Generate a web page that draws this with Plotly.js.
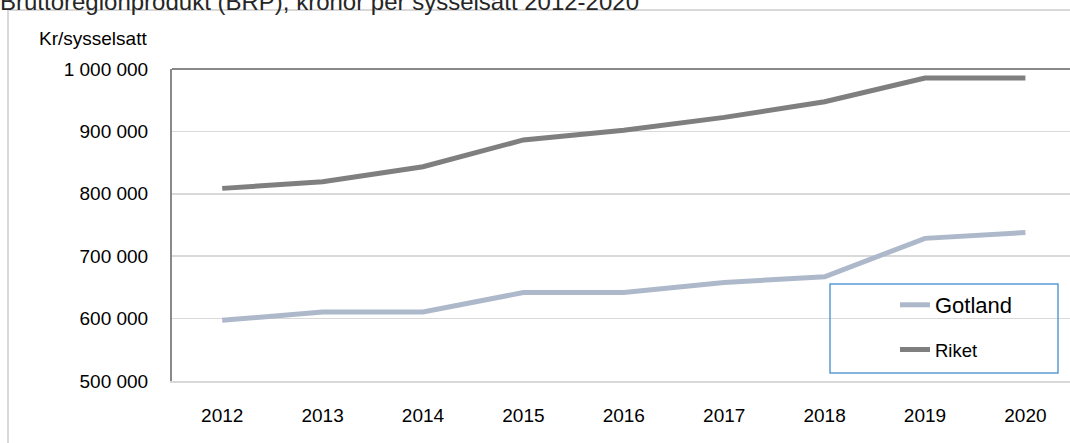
<!DOCTYPE html>
<html>
<head>
<meta charset="utf-8">
<script src="https://cdn.plot.ly/plotly-3.0.1.min.js"></script>
<style>html,body{margin:0;padding:0;background:#fff;}#chart{width:1070px;height:443px;}</style>
</head>
<body>
<div id="chart"></div>
<script>
const years = ['2012','2013','2014','2015','2016','2017','2018','2019','2020'];
const gotland = [597300, 610500, 610500, 641800, 642000, 658000, 667000, 728600, 738000];
const riket = [808700, 819300, 843400, 886300, 902000, 922500, 947500, 985500, 985500];
const titleText = 'Bruttoregionprodukt (BRP), kronor per sysselsatt 2012-2020';
const yLabel = 'Kr/sysselsatt';

const W = 1070, H = 443;
const L = 172, T = 69, B = 381, R = 1070;
const pw = R - L, ph = B - T;
const px = v => (v - L) / pw;
const py = v => (B - v) / ph;
const FONT = 'Liberation Sans, Arial, sans-serif';

const traces = [
  {x: years, y: gotland, name: 'Gotland', type: 'scatter', mode: 'lines',
   line: {color: '#adb9ca', width: 5}, legend: 'legend'},
  {x: years, y: riket, name: 'Riket', type: 'scatter', mode: 'lines',
   line: {color: '#7f7f7f', width: 5}, legend: 'legend2'}
];

const layout = {
  width: W, height: H,
  margin: {l: L, r: W - R, t: T, b: H - B, pad: 0},
  paper_bgcolor: '#fff', plot_bgcolor: '#fff',
  separators: ', ',
  font: {family: FONT, size: 19, color: '#000'},
  title: {text: titleText, x: 0, xref: 'container', xanchor: 'left',
          y: 0.9968, yref: 'container', yanchor: 'middle', pad: {t: 0, b: 0, l: 0, r: 0},
          font: {family: FONT, size: 24, color: '#262626'}},
  xaxis: {type: 'category', range: [-0.5, -0.5 + pw / 100.4], showgrid: false,
          showline: true, linecolor: '#d9d9d9', linewidth: 2, ticks: '', zeroline: false,
          ticklabelstandoff: 16, tickfont: {family: FONT, size: 19, color: '#000'}},
  yaxis: {range: [500000, 1000000], dtick: 100000, tickformat: ',d',
          showgrid: true, gridcolor: '#d9d9d9', gridwidth: 1.5,
          showline: true, linecolor: '#898989', linewidth: 2, ticks: '', zeroline: false,
          ticklabelstandoff: 18, tickfont: {family: FONT, size: 19, color: '#000'}},
  showlegend: true,
  legend: {x: px(895), xanchor: 'left', y: py(305), yanchor: 'middle',
           bgcolor: 'rgba(0,0,0,0)', borderwidth: 0,
           font: {family: FONT, size: 22, color: '#000'}},
  legend2: {x: px(895), xanchor: 'left', y: py(350), yanchor: 'middle',
            bgcolor: 'rgba(0,0,0,0)', borderwidth: 0,
            font: {family: FONT, size: 18.5, color: '#000'}},
  annotations: [
    {text: yLabel, xref: 'paper', yref: 'paper', x: px(37), y: py(39),
     xanchor: 'left', yanchor: 'middle', showarrow: false,
     font: {family: FONT, size: 19, color: '#000'}}
  ],
  shapes: [
    {type: 'rect', xref: 'paper', yref: 'paper', x0: px(8), x1: px(1100), y0: py(10), y1: py(480),
     line: {color: '#d9d9d9', width: 2}, fillcolor: 'rgba(0,0,0,0)', layer: 'below'},
    {type: 'line', xref: 'paper', yref: 'paper', x0: 0, x1: 1, y0: 1, y1: 1,
     line: {color: '#898989', width: 2}, layer: 'above'},
    {type: 'rect', xref: 'paper', yref: 'paper', x0: px(830), x1: px(1058), y0: py(373), y1: py(284),
     line: {color: '#5b9bd5', width: 1.5}, fillcolor: 'rgba(0,0,0,0)', layer: 'above'}
  ]
};

Plotly.newPlot('chart', traces, layout, {displayModeBar: false, staticPlot: true});
</script>
</body>
</html>
